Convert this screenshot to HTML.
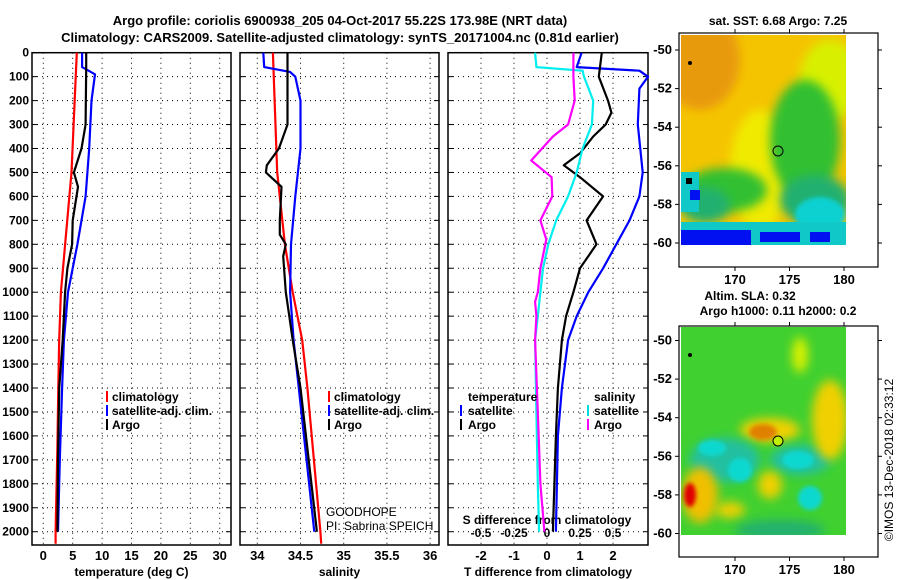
<!DOCTYPE html>
<html><head><meta charset="utf-8"><style>
body{margin:0;background:#fff;}
svg{display:block;font-family:"Liberation Sans",sans-serif;}
.b{font-weight:bold;font-size:12px;}
.m{font-weight:bold;font-size:13px;}
.t{font-weight:bold;font-size:13px;}
</style></head><body>
<svg id="c" width="900" height="580" viewBox="0 0 900 580">
<defs>
<filter id="bl" x="-50%" y="-50%" width="200%" height="200%"><feGaussianBlur stdDeviation="5"/></filter>
<filter id="bl2" x="-50%" y="-50%" width="200%" height="200%"><feGaussianBlur stdDeviation="2"/></filter>
<clipPath id="m1"><rect x="681" y="35" width="165" height="210"/></clipPath>
<clipPath id="m2"><rect x="681" y="327" width="165" height="208"/></clipPath>
</defs>
<text class="t" x="340" y="25" text-anchor="middle">Argo profile: coriolis 6900938_205 04-Oct-2017 55.22S 173.98E (NRT data)</text>
<text class="t" x="340" y="42" text-anchor="middle">Climatology: CARS2009. Satellite-adjusted climatology: synTS_20171004.nc (0.81d earlier)</text>
<g id="axes"></g>
<g id="lines"></g>

<g class="b">
<rect x="106" y="391" width="2" height="11" fill="#f00"/><text x="112" y="401">climatology</text>
<rect x="106" y="405" width="2" height="11" fill="#00f"/><text x="112" y="415">satellite-adj. clim.</text>
<rect x="106" y="419" width="2" height="11" fill="#000"/><text x="112" y="429">Argo</text>
</g>
<g class="b">
<rect x="328" y="391" width="2" height="11" fill="#f00"/><text x="334" y="401">climatology</text>
<rect x="328" y="405" width="2" height="11" fill="#00f"/><text x="334" y="415">satellite-adj. clim.</text>
<rect x="328" y="419" width="2" height="11" fill="#000"/><text x="334" y="429">Argo</text>
</g>
<g font-size="12">
<text x="326" y="516">GOODHOPE</text><text x="326" y="530">PI: Sabrina SPEICH</text>
</g>
<g class="b">
<text x="468" y="401">temperature</text>
<rect x="460" y="405" width="2" height="11" fill="#00f"/><text x="468" y="415">satellite</text>
<rect x="460" y="419" width="2" height="11" fill="#000"/><text x="468" y="429">Argo</text>
<text x="594" y="401">salinity</text>
<rect x="587" y="405" width="2" height="11" fill="#0dd"/><text x="594" y="415">satellite</text>
<rect x="587" y="419" width="2" height="11" fill="#f0f"/><text x="594" y="429">Argo</text>
</g>

<text class="b" x="778" y="25" text-anchor="middle">sat. SST: 6.68 Argo: 7.25</text>
<g clip-path="url(#m1)">
<rect x="681" y="35" width="165" height="210" fill="#f5c400"/>
<ellipse cx="700" cy="60" rx="40" ry="50" fill="#e89a10" filter="url(#bl)"/>
<ellipse cx="830" cy="80" rx="30" ry="40" fill="#d8f000" filter="url(#bl)"/>
<ellipse cx="760" cy="170" rx="30" ry="60" fill="#f0ea00" filter="url(#bl)"/>
<ellipse cx="805" cy="140" rx="35" ry="60" fill="#30c030" filter="url(#bl)"/>
<ellipse cx="725" cy="190" rx="42" ry="22" fill="#30c030" filter="url(#bl)"/>
<ellipse cx="705" cy="205" rx="25" ry="18" fill="#20b070" filter="url(#bl)"/>
<ellipse cx="815" cy="200" rx="35" ry="25" fill="#20b070" filter="url(#bl)"/>
<ellipse cx="820" cy="215" rx="25" ry="18" fill="#10d0d0" filter="url(#bl2)"/>
<rect x="681" y="222" width="165" height="24" fill="#10c8c8"/>
<rect x="681" y="230" width="70" height="15" fill="#0010f0"/>
<rect x="681" y="172" width="18" height="40" fill="#10c8c8"/>
<rect x="686" y="178" width="6" height="6" fill="#000"/>
<rect x="690" y="190" width="10" height="10" fill="#0010f0"/>
<rect x="760" y="232" width="40" height="10" fill="#0010f0"/>
<rect x="810" y="232" width="20" height="10" fill="#0010f0"/>
<circle cx="690" cy="63" r="2" fill="#000"/>
</g>
<g id="map1axes"></g>
<circle cx="778" cy="151" r="5" fill="none" stroke="#000"/>

<text class="b" x="750" y="300" text-anchor="middle">Altim. SLA: 0.32</text>
<text class="b" x="778" y="315" text-anchor="middle">Argo h1000: 0.11 h2000: 0.2</text>
<g clip-path="url(#m2)">
<rect x="681" y="327" width="165" height="208" fill="#40d030"/>
<ellipse cx="770" cy="430" rx="30" ry="12" fill="#f0d000" filter="url(#bl)"/>
<ellipse cx="763" cy="432" rx="14" ry="8" fill="#e08000" filter="url(#bl2)"/>
<ellipse cx="725" cy="460" rx="35" ry="22" fill="#20c0a0" filter="url(#bl)"/>
<ellipse cx="712" cy="448" rx="14" ry="8" fill="#10d8d0" filter="url(#bl2)"/>
<ellipse cx="740" cy="470" rx="12" ry="12" fill="#10d8d0" filter="url(#bl2)"/>
<ellipse cx="800" cy="460" rx="30" ry="15" fill="#20c0a0" filter="url(#bl)"/>
<ellipse cx="798" cy="460" rx="16" ry="9" fill="#10d8d0" filter="url(#bl2)"/>
<ellipse cx="810" cy="498" rx="12" ry="12" fill="#10d8d0" filter="url(#bl2)"/>
<ellipse cx="700" cy="495" rx="18" ry="28" fill="#f0c000" filter="url(#bl)"/>
<ellipse cx="690" cy="495" rx="6" ry="12" fill="#e00000" filter="url(#bl2)"/>
<ellipse cx="770" cy="485" rx="12" ry="14" fill="#f0d000" filter="url(#bl)"/>
<ellipse cx="830" cy="420" rx="18" ry="40" fill="#f0d000" filter="url(#bl)"/>
<ellipse cx="800" cy="355" rx="8" ry="18" fill="#d8f000" filter="url(#bl)"/>
<ellipse cx="730" cy="510" rx="15" ry="8" fill="#f0d000" filter="url(#bl)"/>
<ellipse cx="780" cy="530" rx="45" ry="10" fill="#20b070" filter="url(#bl)"/>
<circle cx="690" cy="355" r="2" fill="#000"/>
</g>
<g id="map2axes"></g>
<circle cx="778" cy="441" r="5" fill="#c0f000" stroke="#000"/>
<text x="893" y="460" font-size="12" text-anchor="middle" transform="rotate(-90 893 460)">©IMOS 13-Dec-2018 02:33:12</text>
</svg>
<script>
const depthTicks=[0,100,200,300,400,500,600,700,800,900,1000,1100,1200,1300,1400,1500,1600,1700,1800,1900,2000];
const tempTicks=[0,5,10,15,20,25,30];
const salTicks=[34,34.5,35,35.5,36];
const tdiffTicks=[-2,-1,0,1,2];
const sdiffTicks=["-0.5","-0.25","0","0.25","0.5"];
const sdiffTickVals=[-0.5,-0.25,0,0.25,0.5];

const tClimD=[0,500,1000,1200,1400,1650,2000,2050];
const tClimV=[5.7,4.8,3.0,2.7,2.55,2.4,2.1,2.1];
const tArgoD=[0,60,300,400,500,560,700,800,900,1000,1200,1400,1700,2000];
const tArgoV=[7.3,7.3,7.2,6.5,5.2,5.9,5.0,4.9,4.1,3.7,3.3,2.7,2.5,2.4];
const tSatD=[0,60,90,200,400,600,800,1000,1200,1400,1700,2000];
const tSatV=[6.6,6.6,8.8,8.2,7.8,7.2,5.8,4.2,3.5,3.2,2.8,2.5];

const sClimD=[0,500,800,1000,1200,1400,2000,2050];
const sClimV=[34.18,34.23,34.32,34.41,34.52,34.58,34.73,34.74];
const sArgoD=[0,300,400,470,500,560,700,760,800,850,1000,1100,1200,1400,2000];
const sArgoV=[34.35,34.35,34.25,34.11,34.1,34.28,34.26,34.26,34.33,34.3,34.33,34.37,34.41,34.5,34.69];
const sSatD=[0,60,80,100,200,400,600,800,1000,1200,1400,2000];
const sSatV=[34.07,34.08,34.38,34.44,34.5,34.5,34.44,34.39,34.38,34.42,34.48,34.66];

const dTSatD=[0,60,75,100,150,300,500,600,700,800,900,1000,1100,1200,1400,1600,2000];
const dTSatV=[1.05,0.9,2.8,3.06,2.8,2.75,2.9,2.8,2.5,2.1,1.7,1.25,0.9,0.64,0.45,0.33,0.27];
const dTArgoD=[0,100,200,250,300,350,420,470,520,600,700,800,900,1000,1100,1200,1400,1600,2000];
const dTArgoV=[1.66,1.57,1.85,1.95,1.78,1.4,1.0,0.51,1.0,1.7,1.2,1.5,1.0,0.8,0.58,0.45,0.33,0.27,0.18];
const dSSatD=[0,60,75,100,200,300,400,500,600,700,800,900,1000,1100,1200,1500,1800,2000];
const dSSatV=[-0.09,-0.08,0.27,0.28,0.35,0.34,0.27,0.225,0.16,0.07,0.01,-0.03,-0.05,-0.07,-0.09,-0.08,-0.07,-0.06];
const dSArgoD=[0,100,200,300,350,450,520,600,700,780,900,1000,1040,1100,1200,1500,1800,2000];
const dSArgoV=[0.2,0.2,0.21,0.16,0.045,-0.12,0.035,0.04,-0.05,-0.005,-0.05,-0.07,-0.09,-0.08,-0.09,-0.07,-0.05,-0.02];

const map1Lat=[-50,-52,-54,-56,-58,-60];
const map2Lat=[-50,-52,-54,-56,-58,-60];
const mapLon=[170,175,180];

const Y=d=>52.7+d*0.2395;
const panels=[
 {x0:32,x1:231,f:v=>43.3+v*5.88,name:'temperature'},
 {x0:240,x1:439,f:v=>257.3+(v-34)*86.4,name:'salinity'},
 {x0:448,x1:648,f:v=>547+v*33,name:'difference'}];
const fS=v=>547+v*132;
const NS='http://www.w3.org/2000/svg';
function mk(tag,attrs,parent){const e=document.createElementNS(NS,tag);for(const k in attrs)e.setAttribute(k,attrs[k]);parent.appendChild(e);return e;}
const axesG=document.getElementById('axes'),linesG=document.getElementById('lines');
const yTop=52.7,yBot=545;

panels.forEach((p,i)=>{
 const g=mk('g',{},axesG);
 
 
 depthTicks.forEach(d=>{const l=mk('line',{x1:p.x0,x2:p.x1,y1:Y(d),y2:Y(d),stroke:'#000','stroke-dasharray':'1,4'},g);
  
  
  mk('line',{x1:p.x0,x2:p.x0+5,y1:Y(d),y2:Y(d),stroke:'#000'},g);mk('line',{x1:p.x1-5,x2:p.x1,y1:Y(d),y2:Y(d),stroke:'#000'},g);});
 const tv=i==0?tempTicks:i==1?salTicks:tdiffTicks;
 tv.forEach(v=>{const x=p.f(v);mk('line',{x1:x,x2:x,y1:yTop,y2:yBot,stroke:'#000','stroke-dasharray':'1,4'},g);
  const t=mk('text',{x:x,y:560,'text-anchor':'middle',class:'m'},g);t.textContent=String(v);
  
  });
 mk('rect',{x:p.x0,y:yTop,width:p.x1-p.x0,height:yBot-yTop,fill:'none',stroke:'#000','stroke-width':1.5},g);
 const tt=mk('text',{x:(p.x0+p.x1)/2,y:576,'text-anchor':'middle',class:'b'},g);
 tt.textContent=['temperature (deg C)','salinity','T difference from climatology'][i];
 
 
});
depthTicks.forEach(d=>{const t=mk('text',{x:29,y:Y(d)+4,'text-anchor':'end',class:'b'},axesG);t.textContent=d;
 
 });
sdiffTickVals.forEach((v,i)=>{const t=mk('text',{x:fS(v),y:537,'text-anchor':'middle',class:'b'},axesG);t.textContent=sdiffTicks[i];
 
 });
{const t=mk('text',{x:547,y:524,'text-anchor':'middle',class:'b'},axesG);t.textContent='S difference from climatology';
 
 }

function line(D,V,fx,color,name,w){
 const pts=D.map((d,i)=>fx(V[i]).toFixed(1)+','+Y(d).toFixed(1)).join(' ');
 const e=mk('polyline',{points:pts,fill:'none',stroke:color,'stroke-width':w||2.2,'stroke-linejoin':'round'},linesG);
 
 
}
line(tClimD,tClimV,panels[0].f,'#f00','temp-climatology-line');
line(tSatD,tSatV,panels[0].f,'#00f','temp-satellite-line');
line(tArgoD,tArgoV,panels[0].f,'#000','temp-argo-line');
line(sClimD,sClimV,panels[1].f,'#f00','sal-climatology-line');
line(sSatD,sSatV,panels[1].f,'#00f','sal-satellite-line');
line(sArgoD,sArgoV,panels[1].f,'#000','sal-argo-line');
line(dTSatD,dTSatV,panels[2].f,'#00f','tdiff-satellite-line');
line(dTArgoD,dTArgoV,panels[2].f,'#000','tdiff-argo-line');
line(dSSatD,dSSatV,fS,'#0ee','sdiff-satellite-line');
line(dSArgoD,dSArgoV,fS,'#f0f','sdiff-argo-line');

function mapAxes(gid,y0,y1,latY,lats){
 const g=document.getElementById(gid);
 
 
 mk('rect',{x:679,y:y0,width:199,height:y1-y0,fill:'none',stroke:'#000','stroke-width':1.2},g);
 lats.forEach(la=>{const y=latY(la);mk('line',{x1:679,x2:675,y1:y,y2:y,stroke:'#000'},g);mk('line',{x1:878,x2:882,y1:y,y2:y,stroke:'#000'},g);
  const t=mk('text',{x:672,y:y+4,'text-anchor':'end',class:'m'},g);t.textContent=la;
  
  });
 mapLon.forEach(lo=>{const x=735+(lo-170)*10.9;mk('line',{x1:x,x2:x,y1:y0,y2:y0-4,stroke:'#000'},g);mk('line',{x1:x,x2:x,y1:y1,y2:y1+4,stroke:'#000'},g);
  const t=mk('text',{x:x,y:y1+17,'text-anchor':'middle',class:'m'},g);t.textContent=lo;
  
  });
}
mapAxes('map1axes',33,267,la=>50+(-50-la)*19.3,map1Lat);
mapAxes('map2axes',326,557,la=>340.5+(-50-la)*19.3,map2Lat);
</script>
</body></html>
